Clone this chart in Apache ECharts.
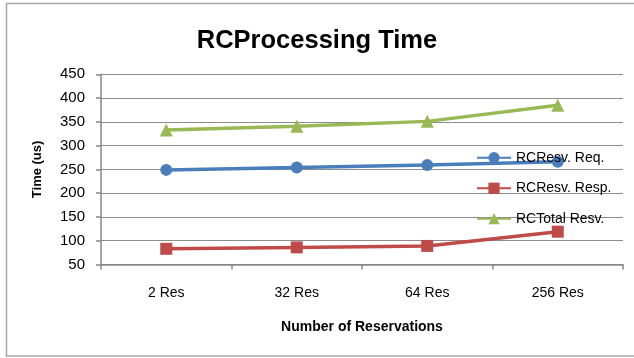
<!DOCTYPE html>
<html>
<head>
<meta charset="utf-8">
<script src="https://cdn.jsdelivr.net/npm/echarts@6/dist/echarts.min.js"></script>
<style>
html,body{margin:0;padding:0;background:#fff;}
#chart{width:634px;height:358px;}
</style>
</head>
<body>
<div id="chart"></div>
<script>
const categories = ['2 Res', '32 Res', '64 Res', '256 Res'];
const resvReq = [249, 254, 259, 266];
const resvResp = [83, 86, 89, 119];
const totalResv = [333, 341, 351, 385];
const seriesNames = ['RCResv. Req.', 'RCResv. Resp.', 'RCTotal Resv.'];
const titleText = 'RCProcessing Time';
const xName = 'Number of Reservations';
const yName = 'Time (us)';

const font = '"Liberation Sans", Arial, sans-serif';
const chart = echarts.init(document.getElementById('chart'), null, {renderer: 'canvas'});
chart.setOption({
  animation: false,
  backgroundColor: '#fff',
  textStyle: {fontFamily: font},
  graphic: [{
    type: 'rect', z: -1, silent: true,
    shape: {x: 6.5, y: 3.5, width: 640, height: 352.5},
    style: {fill: 'none', stroke: '#a6a6a6', lineWidth: 1.5}
  }],
  title: {
    text: titleText, left: 'center', top: 23,
    textStyle: {fontFamily: font, fontSize: 25.5, fontWeight: 'bold', color: '#000'}
  },
  grid: {left: 101, right: 11, top: 74.3, bottom: 93.5, containLabel: false},
  legend: {
    orient: 'vertical', left: 471, top: 145.7,
    itemWidth: 34, itemHeight: 14, itemGap: 16.5,
    textStyle: {fontFamily: font, fontSize: 14, color: '#000'},
    data: seriesNames
  },
  xAxis: {
    type: 'category', data: categories, boundaryGap: true,
    name: xName, nameLocation: 'middle', nameGap: 56,
    nameTextStyle: {fontFamily: font, fontSize: 14, fontWeight: 'bold', color: '#000'},
    axisLine: {lineStyle: {color: '#868686', width: 1.5}},
    axisTick: {show: true, length: 5, alignWithLabel: false, lineStyle: {color: '#868686', width: 1.5}},
    axisLabel: {fontFamily: font, fontSize: 14, color: '#000', margin: 22},
    splitLine: {show: false}
  },
  yAxis: {
    type: 'value', min: 50, max: 450, interval: 50,
    name: yName, nameLocation: 'middle', nameGap: 57, nameRotate: 90,
    nameTextStyle: {fontFamily: font, fontSize: 13, fontWeight: 'bold', color: '#000'},
    axisLine: {show: true, lineStyle: {color: '#868686', width: 1.5}},
    axisTick: {show: true, length: 5, lineStyle: {color: '#868686', width: 1.5}},
    axisLabel: {fontFamily: font, fontSize: 15, color: '#000', margin: 16},
    splitLine: {show: true, lineStyle: {color: '#8c8c8c', width: 1.2}}
  },
  series: [
    {name: seriesNames[0], type: 'line', data: resvReq, symbol: 'circle', symbolSize: 12,
     lineStyle: {color: '#4a7ebb', width: 3.5}, itemStyle: {color: '#4a7ebb'}},
    {name: seriesNames[1], type: 'line', data: resvResp, symbol: 'rect', symbolSize: 12,
     lineStyle: {color: '#be4b48', width: 3.5}, itemStyle: {color: '#be4b48'}},
    {name: seriesNames[2], type: 'line', data: totalResv, symbol: 'triangle', symbolSize: 13,
     lineStyle: {color: '#98b954', width: 3.5}, itemStyle: {color: '#98b954'}}
  ]
});
</script>
</body>
</html>
